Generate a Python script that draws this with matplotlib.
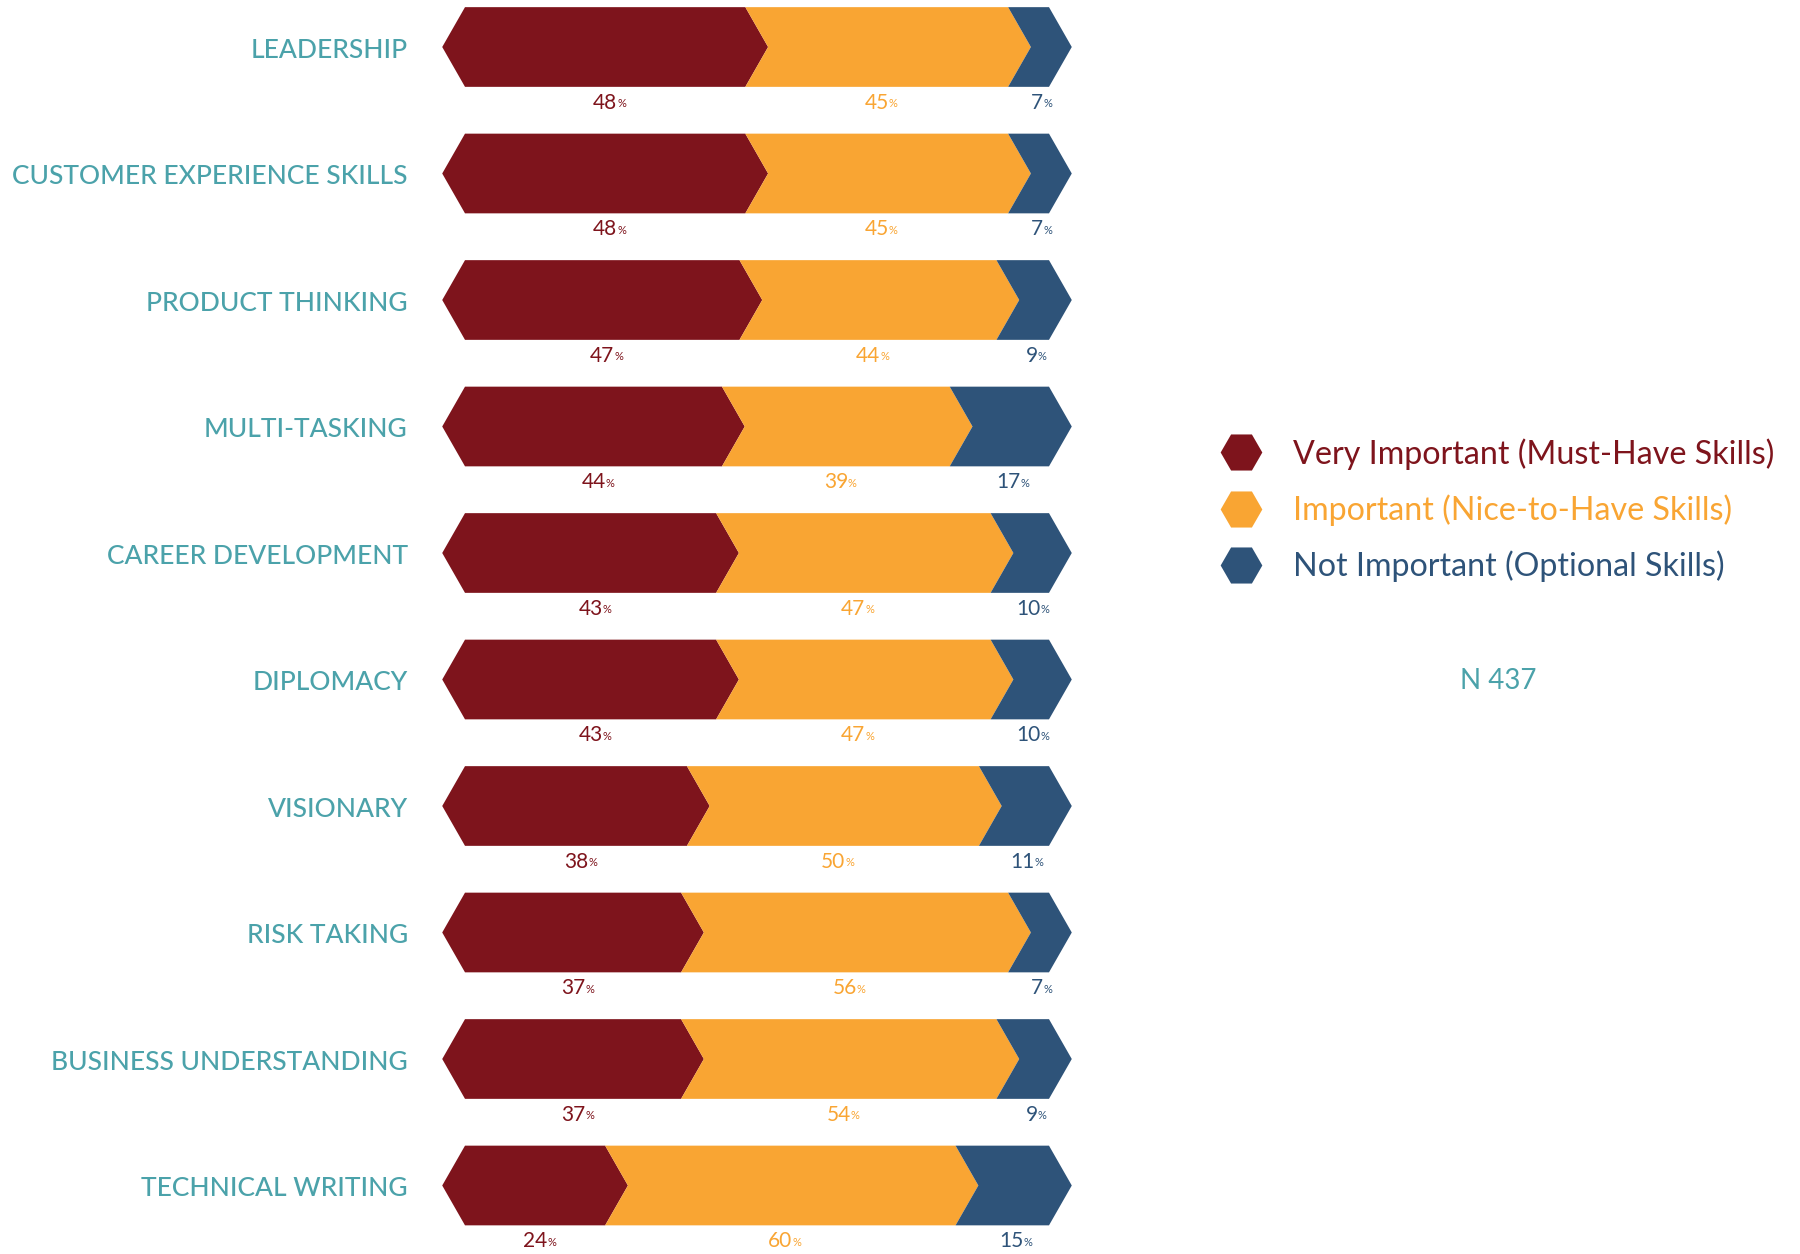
import matplotlib
matplotlib.use("Agg")
import matplotlib.pyplot as plt
from matplotlib.patches import Polygon
from matplotlib.lines import Line2D

plt.rcParams['font.family'] = ['Lato', 'DejaVu Sans']

skills = ["LEADERSHIP", "CUSTOMER EXPERIENCE SKILLS", "PRODUCT THINKING", "MULTI-TASKING",
          "CAREER DEVELOPMENT", "DIPLOMACY", "VISIONARY", "RISK TAKING",
          "BUSINESS UNDERSTANDING", "TECHNICAL WRITING"]
very_important = [48, 48, 47, 44, 43, 43, 38, 37, 37, 24]
important = [45, 45, 44, 39, 47, 47, 50, 56, 54, 60]
not_important = [7, 7, 9, 17, 10, 10, 11, 7, 9, 15]

series_names = ["Very Important (Must-Have Skills)", "Important (Nice-to-Have Skills)",
                "Not Important (Optional Skills)"]
colors = ["#7E141C", "#F9A533", "#2E5379"]
teal = "#4BA2AA"
n_text = "N 437"

W, H = 1800, 1254
fig = plt.figure(figsize=(W / 100, H / 100), dpi=100)

# axes placed so that 0..100% maps onto the flat part of the bars
px_per_unit = 5.84
x0_px = 465
xmin, xmax = -4, 104
ax_left = x0_px + xmin * px_per_unit
ax_right = x0_px + xmax * px_per_unit
ax = fig.add_axes([ax_left / W, 0, (ax_right - ax_left) / W, 1])
ax.set_xlim(xmin, xmax)
row_px, first_px = 126.5, 47
ax.set_ylim((H - first_px) / row_px, -first_px / row_px)
ax.axis('off')

half = 0.315
d = 3.9  # depth of the arrow points


def segment(a, b, y, notch_left, point_left):
    top, bot = y - half, y + half
    if point_left:
        lx = a - d
    elif notch_left:
        lx = a + d
    else:
        lx = a
    return [(a, top), (b, top), (b + d, y), (b, bot), (a, bot), (lx, y)]


for i, name in enumerate(skills):
    vals = [very_important[i], important[i], not_important[i]]
    start = 0
    for j, v in enumerate(vals):
        end = start + v if j < 2 else 100
        pts = segment(start, end, i, notch_left=(j > 0), point_left=(j == 0))
        ax.add_patch(Polygon(pts, closed=True, facecolor=colors[j], edgecolor='none'))
        cx = (start + end) / 2 + (1.5 if j == 2 else 0)
        t = ax.text(cx, i + 0.44, str(v), ha='center', va='center', fontsize=15,
                    color=colors[j])
        ax.annotate('%', xy=(1, 0.45), xycoords=t, ha='left', va='center',
                    fontsize=8, color=colors[j])
        start = end
    ax.text(-9.8, i + 0.025, name, ha='right', va='center', fontsize=19, color=teal,
            fontweight='medium', clip_on=False)

handles = [Line2D([], [], linestyle='none', marker='H', markersize=30,
                  markerfacecolor=c, markeredgecolor='none') for c in colors]
leg = fig.legend(handles, series_names, loc='upper left',
                 bbox_to_anchor=(1193 / W, 1 - 409 / H), frameon=False,
                 fontsize=23.2, labelcolor=colors, handletextpad=1.0,
                 labelspacing=0.77, handlelength=1.2)

fig.text(1498 / W, 1 - 681 / H, n_text, ha='center', va='center', fontsize=20,
         color=teal)

fig.savefig("out.png", dpi=100, facecolor='white')
